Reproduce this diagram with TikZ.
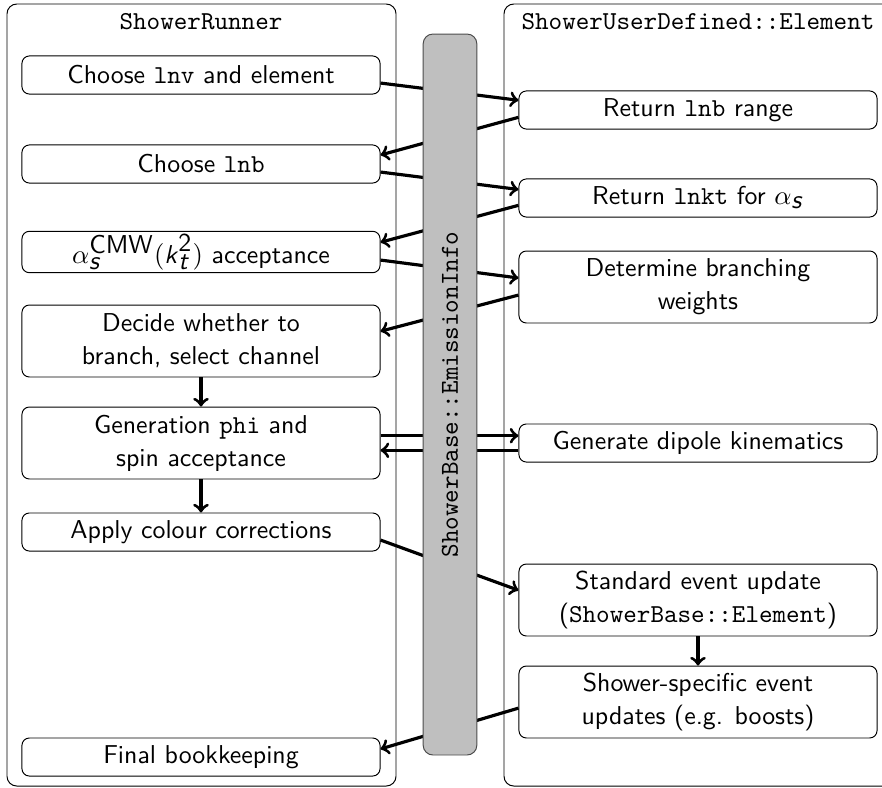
\documentclass[tikz,border=0pt]{standalone}
\usepackage{tikz}
\usetikzlibrary{arrows}

\newcommand{\sfit}[1]{\textsf{\textit{#1}}}

\begin{document}
\begin{tikzpicture}[x=0.41pt, y=-0.41pt, font={\fontsize{10.6pt}{13.5pt}\selectfont\sffamily}, >=to,
	task/.style={draw, rounded corners=3pt, minimum width=146.8pt, minimum height=15.6pt, align=center, inner sep=1pt},
	tall/.style={task, minimum height=29.5pt},
	flow/.style={->, line width=1.3pt}]

	\useasboundingbox (0,0) rectangle (882,787);

	% Lanes {runner, element}
	\draw [rounded corners=4pt] (7,4) rectangle (396,786);
	\draw [rounded corners=4pt] (504,4) rectangle (893,786);
	\node (runner)  at (201,22) {\texttt{ShowerRunner}};
	\node (element) at (698,22) {\texttt{ShowerUserDefined::Element}};

	% Nodes {lnv, lnb, alpha, branch, phi, colour, final}
	\node [task] (lnv)    at (201,75)  {Choose \texttt{lnv} and element};
	\node [task] (lnb)    at (201,164) {Choose \texttt{lnb}};
	\node [task] (alpha)  at (201,252) {$\alpha_{\sfit{s}}^{\textsf{CMW}}(\sfit{k}_{\sfit{t}}^{\textsf{2}})$ acceptance};
	\node [tall] (branch) at (201,341) {Decide whether to\\branch, select channel};
	\node [tall] (phi)    at (201,443) {Generation \texttt{phi} and\\spin acceptance};
	\node [task] (colour) at (201,532) {Apply colour corrections};
	\node [task] (final)  at (201,757) {Final bookkeeping};

	% Nodes {lnbrange, lnkt, weights, dipole, update, specific}
	\node [task] (lnbrange) at (698,110) {Return \texttt{lnb} range};
	\node [task] (lnkt)     at (698,198) {Return \texttt{lnkt} for $\alpha_{\sfit{s}}$};
	\node [tall] (weights)  at (698,287) {Determine branching\\weights};
	\node [task] (dipole)   at (698,443) {Generate dipole kinematics};
	\node [tall] (update)   at (698,600) {Standard event update\\(\texttt{ShowerBase::Element})};
	\node [tall] (specific) at (698,702) {Shower-specific event\\updates (e.g. boosts)};

	% Paths
	\path [flow] ([yshift=-3.3pt]lnv.east)      edge ([yshift=4pt]lnbrange.west);
	\path [flow] ([yshift=-3pt]lnbrange.west)   edge ([yshift=3.7pt]lnb.east);
	\path [flow] ([yshift=-3.3pt]lnb.east)      edge ([yshift=3.5pt]lnkt.west);
	\path [flow] ([yshift=-3pt]lnkt.west)       edge ([yshift=4pt]alpha.east);
	\path [flow] ([yshift=-3.3pt]alpha.east)    edge ([yshift=3.7pt]weights.west);
	\path [flow] ([yshift=-3.3pt]weights.west)  edge ([yshift=4pt]branch.east);
	\path [flow] (branch)                       edge (phi);
	\path [flow] ([yshift=3pt]phi.east)         edge ([yshift=3pt]dipole.west);
	\path [flow] ([yshift=-3pt]dipole.west)     edge ([yshift=-3pt]phi.east);
	\path [flow] (phi)                          edge (colour);
	\path [flow] ([yshift=-3.3pt]colour.east)   edge ([yshift=4pt]update.west);
	\path [flow] (update)                       edge (specific);
	\path [flow] ([yshift=-2.5pt]specific.west) edge ([yshift=3.3pt]final.east);

	% Shared emission info
	\node [draw=black!70, fill=gray!50, rounded corners=4pt, rotate=90, minimum width=295.6pt, minimum height=22pt] (info) at (450,394.5) {\texttt{ShowerBase::EmissionInfo}};

\end{tikzpicture}
\end{document}
